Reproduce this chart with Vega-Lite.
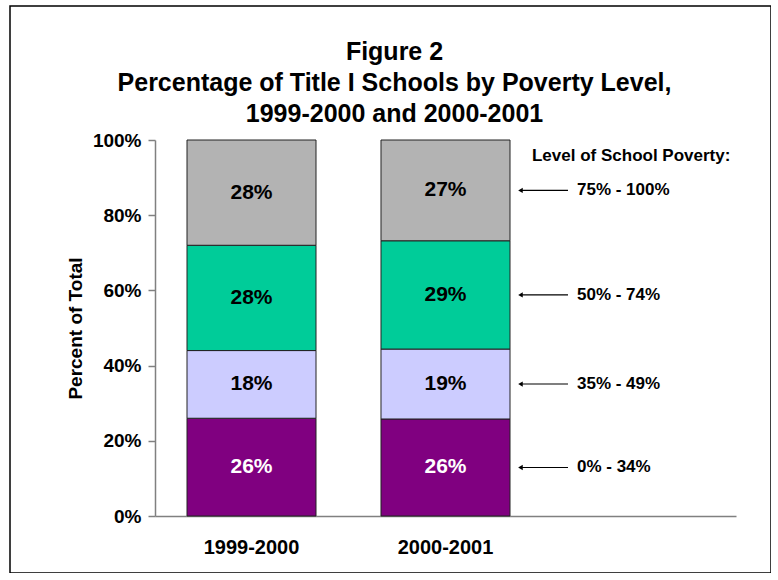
{
  "$schema": "https://vega.github.io/schema/vega-lite/v6.json",
  "width": 761,
  "height": 567,
  "autosize": {"type": "none"},
  "padding": {"left": 10, "top": 6, "right": 0, "bottom": 0},
  "background": "white",
  "title": {
    "text": ["Figure 2", "Percentage of Title I Schools by Poverty Level,", "1999-2000 and 2000-2001"],
    "font": "Liberation Sans",
    "fontSize": 25,
    "fontWeight": "bold",
    "lineHeight": 31,
    "baseline": "alphabetic",
    "offset": -141,
    "dx": 4,
    "anchor": "middle",
    "frame": "group",
    "color": "black"
  },
  "config": {
    "view": {"stroke": "black", "strokeWidth": 1.5},
    "font": "Liberation Sans"
  },
  "data": {
    "values": [
      {"year": "1999-2000", "level": "0% - 34%", "share": 0.26},
      {"year": "1999-2000", "level": "35% - 49%", "share": 0.18},
      {"year": "1999-2000", "level": "50% - 74%", "share": 0.28},
      {"year": "1999-2000", "level": "75% - 100%", "share": 0.28},
      {"year": "2000-2001", "level": "0% - 34%", "share": 0.258},
      {"year": "2000-2001", "level": "35% - 49%", "share": 0.186},
      {"year": "2000-2001", "level": "50% - 74%", "share": 0.288},
      {"year": "2000-2001", "level": "75% - 100%", "share": 0.268}
    ]
  },
  "transform": [
    {"stack": "share", "groupby": ["year"], "sort": [{"field": "level"}], "as": ["y0", "y1"]},
    {"calculate": "(datum.y0 + datum.y1) / 2", "as": "mid"}
  ],
  "encoding": {
    "x": {
      "field": "year",
      "type": "nominal",
      "scale": {"domain": ["1999-2000", "2000-2001", " "], "range": [145, 726], "paddingInner": 0.335, "paddingOuter": 0.165},
      "axis": {
        "title": null,
        "orient": "bottom",
        "offset": -57,
        "ticks": false,
        "labelAngle": 0,
        "labelPadding": 21,
        "labelFont": "Liberation Sans",
        "labelFontSize": 20,
        "labelFontWeight": "bold",
        "labelColor": "black",
        "domainColor": "#808080",
        "domainWidth": 1.5
      }
    }
  },
  "layer": [
    {
      "mark": {"type": "bar", "stroke": "#222222", "strokeWidth": 1},
      "encoding": {
        "y": {
          "field": "y0",
          "type": "quantitative",
          "scale": {"domain": [0, 1], "range": [510, 134], "nice": false},
          "axis": {
            "title": "Percent of Total",
            "orient": "left",
            "offset": -145,
            "values": [0, 0.2, 0.4, 0.6, 0.8, 1],
            "format": ".0%",
            "grid": false,
            "tickSize": 7,
            "tickColor": "#808080",
            "tickWidth": 1.5,
            "labelPadding": 7,
            "labelFont": "Liberation Sans",
            "labelFontSize": 19,
            "labelFontWeight": "bold",
            "labelColor": "black",
            "domainColor": "#808080",
            "domainWidth": 1.5,
            "titleFont": "Liberation Sans",
            "titleFontSize": 19,
            "titleFontWeight": "bold",
            "titleColor": "black",
            "titlePadding": 7
          }
        },
        "y2": {"field": "y1"},
        "color": {
          "field": "level",
          "type": "nominal",
          "scale": {
            "domain": ["0% - 34%", "35% - 49%", "50% - 74%", "75% - 100%"],
            "range": ["#800080", "#CCCCFF", "#00CC99", "#B3B3B3"]
          },
          "legend": null
        }
      }
    },
    {
      "mark": {"type": "text", "font": "Liberation Sans", "fontSize": 21, "fontWeight": "bold", "baseline": "middle", "align": "center"},
      "encoding": {
        "y": {"field": "mid", "type": "quantitative"},
        "text": {"field": "share", "type": "quantitative", "format": ".0%"},
        "color": {"condition": {"test": "datum.level === '0% - 34%'", "value": "white"}, "value": "black"}
      }
    },
    {
      "transform": [{"filter": "datum.year === '2000-2001'"}],
      "mark": {"type": "rule", "color": "black", "strokeWidth": 1.2, "xOffset": -119, "x2Offset": -71.5},
      "encoding": {
        "x": {"datum": " "},
        "x2": {"datum": " "},
        "y": {"field": "mid", "type": "quantitative"}
      }
    },
    {
      "transform": [{"filter": "datum.year === '2000-2001'"}],
      "mark": {"type": "point", "shape": "triangle-left", "filled": true, "color": "black", "size": 28, "opacity": 1, "xOffset": -119},
      "encoding": {
        "x": {"datum": " "},
        "y": {"field": "mid", "type": "quantitative"}
      }
    },
    {
      "transform": [{"filter": "datum.year === '2000-2001'"}],
      "mark": {"type": "text", "font": "Liberation Sans", "fontSize": 17, "fontWeight": "bold", "align": "left", "baseline": "middle", "dx": -62.5, "color": "black"},
      "encoding": {
        "x": {"datum": " "},
        "y": {"field": "mid", "type": "quantitative"},
        "text": {"field": "level", "type": "nominal"}
      }
    },
    {
      "data": {"values": [{"label": "Level of School Poverty:"}]},
      "transform": [],
      "mark": {"type": "text", "font": "Liberation Sans", "fontSize": 17, "fontWeight": "bold", "align": "left", "baseline": "alphabetic", "dx": -107.5, "dy": 21, "color": "black"},
      "encoding": {
        "x": {"datum": " "},
        "y": {"datum": 1},
        "text": {"field": "label", "type": "nominal"}
      }
    }
  ]
}
